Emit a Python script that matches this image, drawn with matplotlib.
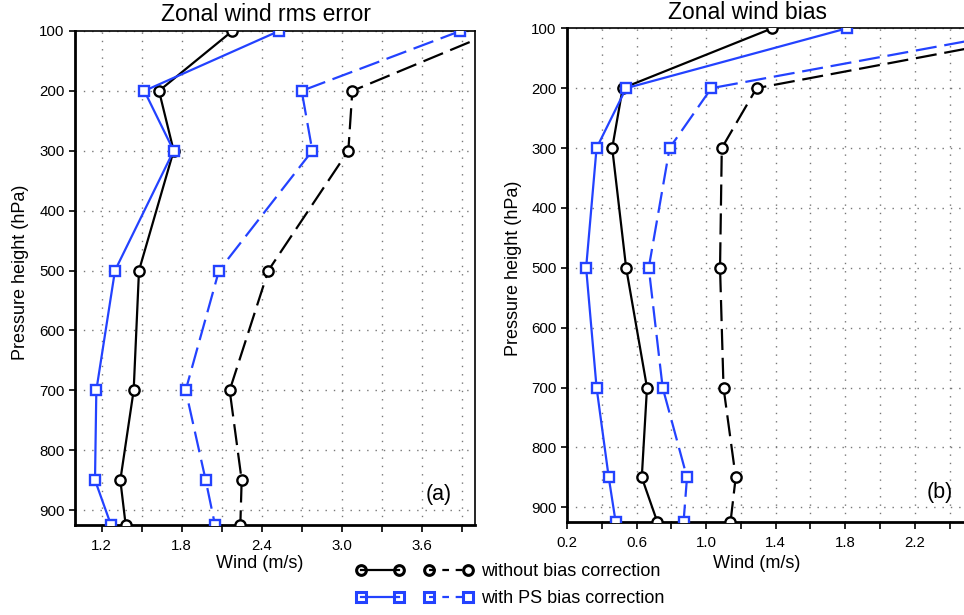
import matplotlib
matplotlib.use("Agg")
import matplotlib.pyplot as plt
from matplotlib.lines import Line2D
from matplotlib.legend_handler import HandlerTuple, HandlerLine2D
import numpy as np

plt.rcParams['font.family'] = ['Liberation Sans', 'DejaVu Sans']

# Pressure levels (hPa)
levels = [100, 200, 300, 500, 700, 850, 925]

# Zonal wind rms error (m/s)
rms_nobc_solid = [2.18, 1.63, 1.74, 1.48, 1.44, 1.34, 1.38]
rms_ps_solid = [2.53, 1.52, 1.74, 1.30, 1.16, 1.15, 1.27]
rms_nobc_dash = [4.16, 3.08, 3.05, 2.45, 2.16, 2.25, 2.24]
rms_ps_dash = [3.89, 2.70, 2.78, 2.08, 1.83, 1.98, 2.05]

# Zonal wind bias (m/s)
bias_nobc_solid = [1.38, 0.52, 0.46, 0.54, 0.66, 0.63, 0.72]
bias_ps_solid = [1.81, 0.54, 0.37, 0.31, 0.37, 0.44, 0.48]
bias_nobc_dash = [3.12, 1.29, 1.09, 1.08, 1.10, 1.17, 1.14]
bias_ps_dash = [2.90, 1.03, 0.79, 0.67, 0.75, 0.89, 0.87]

titles = ["Zonal wind rms error", "Zonal wind bias"]
panel_tags = ["(a)", "(b)"]
legend_labels = ["without bias correction", "with PS bias correction"]
xlabel = "Wind (m/s)"
ylabel = "Pressure height (hPa)"
ytick_vals = [100, 200, 300, 400, 500, 600, 700, 800, 900]

BLUE = '#2342ff'
BLACK = '#000000'
DASH = (0, (9.5, 3.5))

W, H = 964, 615
fig = plt.figure(figsize=(W / 100, H / 100), dpi=100)

def px_axes(x0, y0, x1, y1):
    return fig.add_axes([x0 / W, 1 - y1 / H, (x1 - x0) / W, (y1 - y0) / H])

ax_a = px_axes(75, 31, 475, 525)
ax_b = px_axes(567, 28.3, 967, 522.3)

def draw_series(ax, x, color, marker, ls):
    ax.plot(x, levels, color=color, lw=1.6, ls=ls, marker=marker, ms=7.4,
            mfc='white', mec=color, mew=1.7, zorder=3)

panels = [
    (ax_a, [rms_nobc_solid, rms_ps_solid, rms_nobc_dash, rms_ps_dash],
     (1.0, 4.0), np.arange(1.2, 3.61, 0.6), np.arange(1.5, 3.91, 0.6)),
    (ax_b, [bias_nobc_solid, bias_ps_solid, bias_nobc_dash, bias_ps_dash],
     (0.2, 2.5), np.arange(0.2, 2.21, 0.4), np.arange(0.4, 2.41, 0.4)),
]

for i, (ax, series, xlim, major, minor) in enumerate(panels):
    nobc_s, ps_s, nobc_d, ps_d = series
    draw_series(ax, nobc_s, BLACK, 'o', '-')
    draw_series(ax, ps_s, BLUE, 's', '-')
    draw_series(ax, nobc_d, BLACK, 'o', DASH)
    draw_series(ax, ps_d, BLUE, 's', DASH)

    ax.set_xlim(*xlim)
    ax.set_ylim(925, 100)
    ax.set_xticks(major)
    ax.set_xticklabels([f"{v:.1f}" for v in major])
    ax.set_xticks(minor, minor=True)
    ax.set_yticks(ytick_vals)
    ax.tick_params(axis='both', which='both', direction='out', labelsize=10.8,
                   width=1.2)
    ax.tick_params(axis='x', which='both', length=5, pad=5)
    ax.tick_params(axis='y', length=4)
    ax.grid(True, which='both', color='#777777', lw=1.0, ls=(0, (1, 5)))
    ax.set_axisbelow(True)

    for side in ('left', 'bottom'):
        ax.spines[side].set_linewidth(2.0)
    for side in ('top', 'right'):
        ax.spines[side].set_linewidth(1.2)

    ax.set_xlabel(xlabel, fontsize=13)
    ax.set_ylabel(ylabel, fontsize=13)

ax_a.xaxis.set_label_coords(0.4625, -0.061)
ax_b.xaxis.set_label_coords(0.475, -0.066)
ax_a.yaxis.set_label_coords(-0.115, 0.512)
ax_b.yaxis.set_label_coords(-0.1125, 0.515)

ax_a.text(0.477, 1.034, titles[0], transform=ax_a.transAxes, ha='center',
          va='center', fontsize=16.5)
ax_b.text(0.451, 1.031, titles[1], transform=ax_b.transAxes, ha='center',
          va='center', fontsize=16.5)
ax_a.text(0.9425, 0.061, panel_tags[0], transform=ax_a.transAxes, ha='right',
          va='center', fontsize=15.5)
ax_b.text(0.965, 0.061, panel_tags[1], transform=ax_b.transAxes, ha='right',
          va='center', fontsize=15.5)

def proxy(color, marker, ls):
    return Line2D([], [], color=color, lw=1.6, ls=ls, marker=marker, ms=7,
                  mfc='none', mec=color, mew=2.2)

handles = [
    (proxy(BLACK, 'o', '-'), proxy(BLACK, 'o', (0, (3, 3)))),
    (proxy(BLUE, 's', '-'), proxy(BLUE, 's', (0, (3, 3)))),
]
fig.legend(handles, legend_labels, numpoints=2,
           handler_map={tuple: HandlerTuple(ndivide=None, pad=1.67),
                        Line2D: HandlerLine2D(marker_pad=0)},
           loc='center left', bbox_to_anchor=(360.7 / W, 1 - 585 / H),
           frameon=False, fontsize=13, handlelength=5.92,
           handletextpad=0.75, labelspacing=0.55, borderpad=0,
           borderaxespad=0)

fig.savefig("out.png", dpi=100)
